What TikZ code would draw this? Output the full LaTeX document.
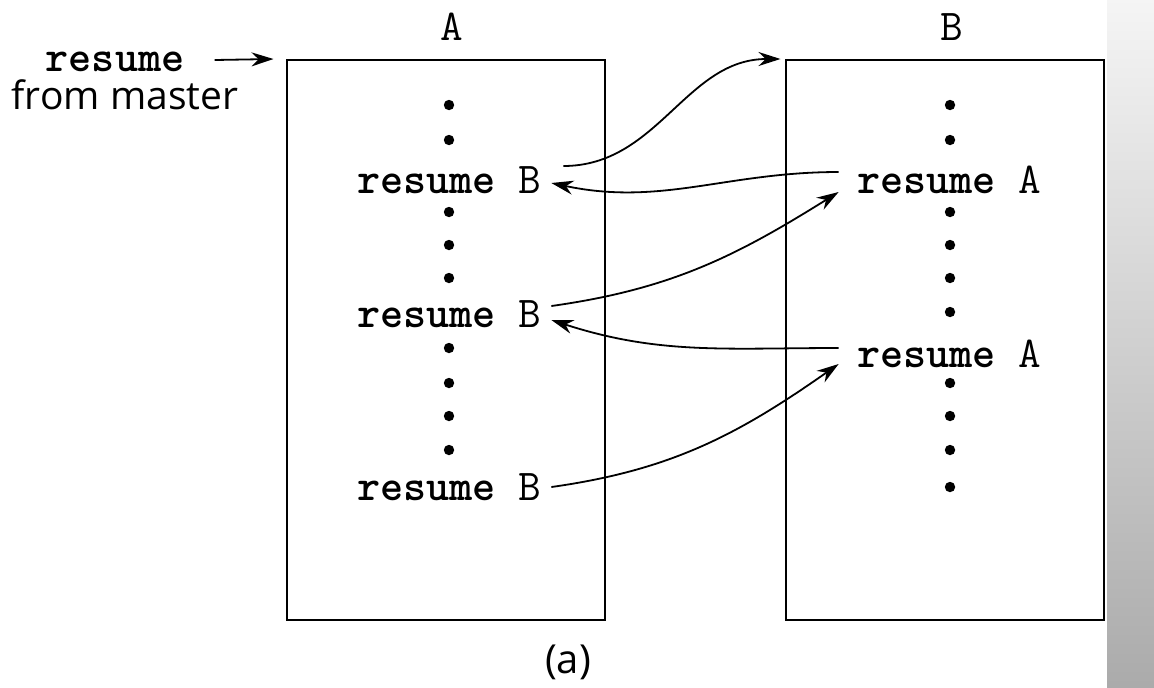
\documentclass[tikz,border=0pt]{standalone}
\usepackage{fontspec}
\newfontfamily\labelsans{Open Sans}
\usetikzlibrary{arrows.meta,positioning}

\tikzset{
  routine/.style={draw, line width=1pt, minimum width=159pt, minimum height=280pt, inner sep=0pt},
  callsite/.style={inner sep=5pt, font=\fontsize{22}{26}\selectfont\ttfamily},
  transfer/.style={->, line width=0.9pt, >={Stealth[length=11pt,width=7pt]}},
}

\begin{document}
\begin{tikzpicture}[x=0.5pt, y=0.5pt]
    \useasboundingbox (0,0) rectangle (1154,-687);
    \shade[top color=gray!8, bottom color=gray!66] (1107,0) rectangle (1154,-687);

    \node[routine] (boxA) at (445.5,-340) {};
    \node[routine] (boxB) at (944.5,-340) {};
    \node[callsite] (nameA) at (452,-27) {A};
    \node[callsite] (nameB) at (952,-27) {B};

    \node[callsite, inner sep=1pt] (master) at (115,-62) {\textbf{resume}};
    \node[font=\fontsize{19.5}{23}\selectfont\labelsans, inner sep=1pt] (from) at (125,-95) {from master};

    \node[callsite] (rb1) at (449,-180) {\textbf{resume} B};
    \node[callsite] (rb2) at (449,-314) {\textbf{resume} B};
    \node[callsite] (rb3) at (449,-487) {\textbf{resume} B};
    \node[callsite] (ra1) at (949,-180) {\textbf{resume} A};
    \node[callsite] (ra2) at (949,-354) {\textbf{resume} A};

    \foreach \y in {105,140,212,245,278,348,383,416,450}
      \fill (449,-\y) circle[radius=2.6pt];
    \foreach \y in {105,140,212,245,278,312,383,416,450,487}
      \fill (950,-\y) circle[radius=2.6pt];

    \draw[transfer] ([xshift=14pt,yshift=1pt]master.east) -- ([xshift=-6pt]boxA.north west);
    \draw[transfer] ([xshift=6pt,yshift=7pt]rb1.east) to[out=0, in=180] ([xshift=-2pt]boxB.north west);
    \draw[transfer] ([xshift=-4pt,yshift=4pt]ra1.west) to[out=180, in=-12] ([yshift=-1.5pt]rb1.east);
    \draw[transfer] ([yshift=4pt]rb2.east) to[out=8, in=212] ([xshift=-4pt,yshift=-6pt]ra1.west);
    \draw[transfer] ([xshift=-4pt,yshift=3pt]ra2.west) to[out=180, in=-18] ([yshift=-3pt]rb2.east);
    \draw[transfer] (rb3.east) to[out=8, in=215] ([xshift=-4pt,yshift=-5pt]ra2.west);

    \node[font=\fontsize{20}{24}\selectfont\labelsans] (caption) at (568,-662) {(a)};
\end{tikzpicture}
\end{document}
